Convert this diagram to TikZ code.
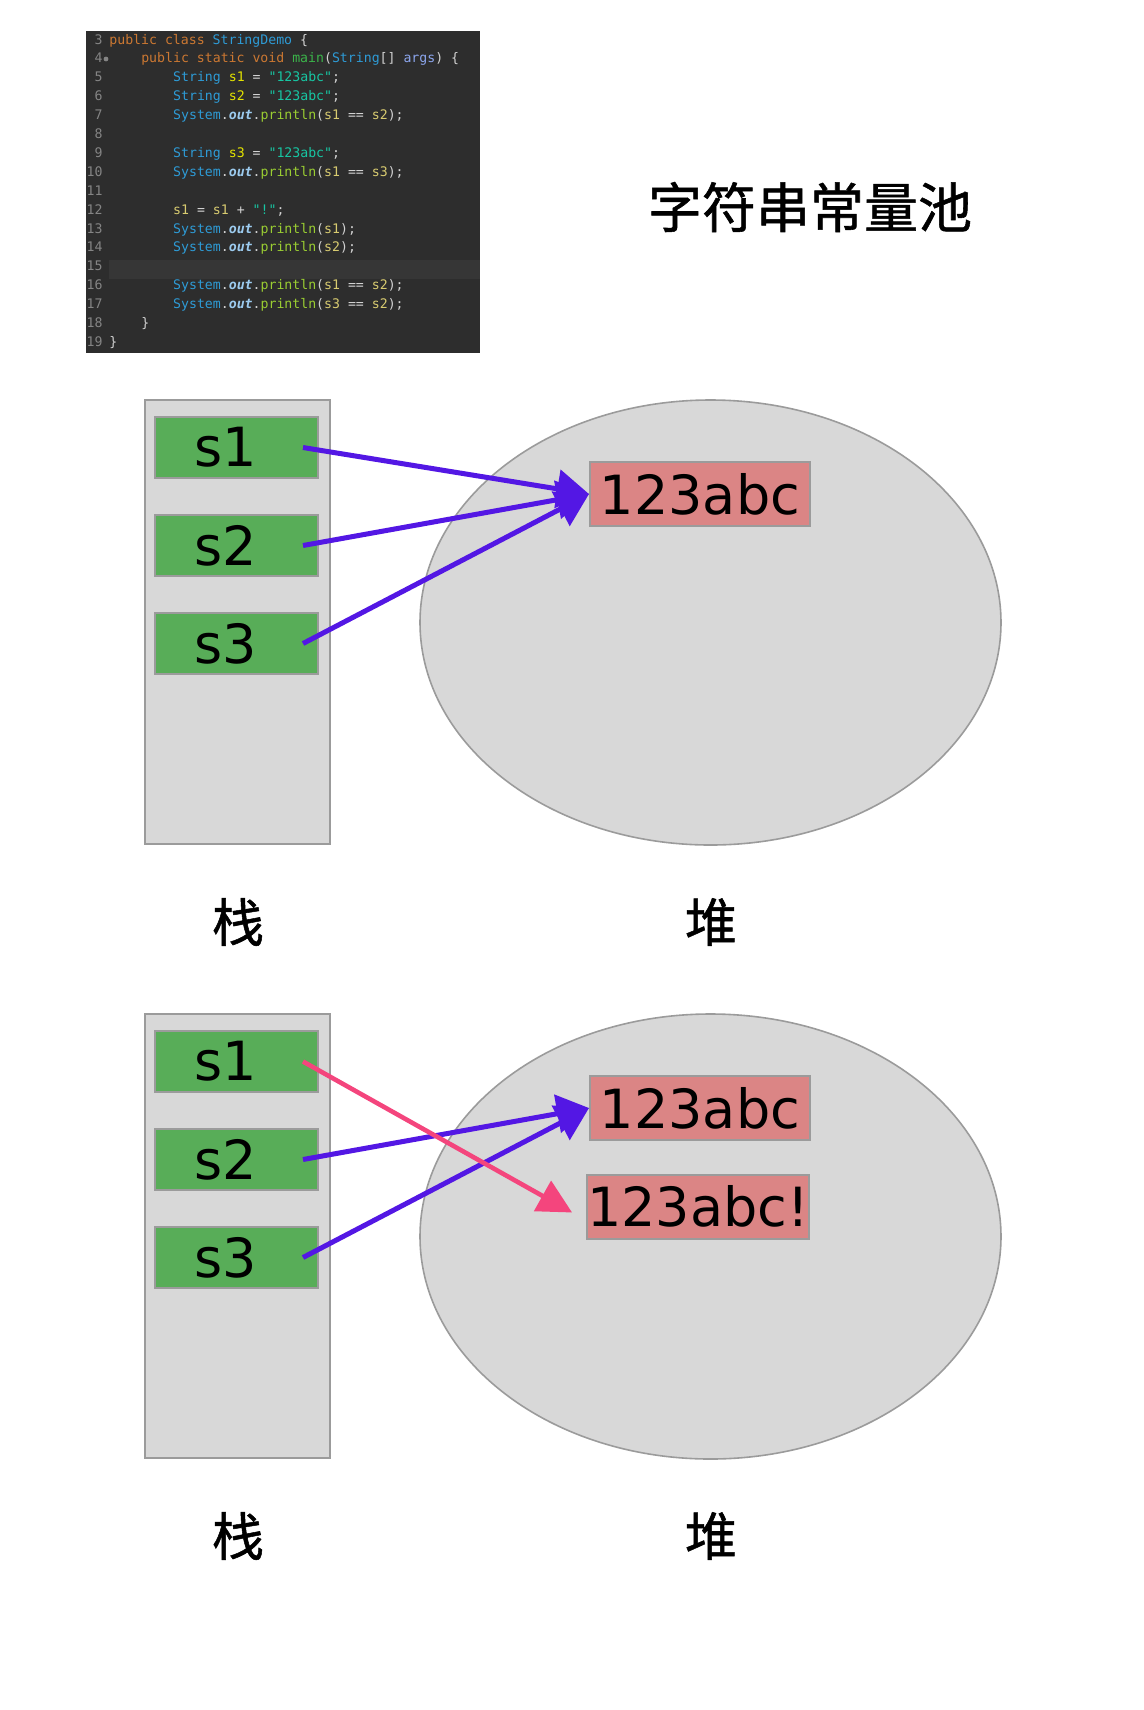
\documentclass[tikz,border=0pt]{standalone}
\usepackage{fontspec}
\setmainfont{DejaVu Sans}
\setmonofont{DejaVu Sans Mono}
\newfontfamily\cjk[FakeBold=1]{Noto Sans CJK SC}
\usetikzlibrary{arrows.meta,shapes.geometric}

\definecolor{codebg}{HTML}{2D2D2D}
\definecolor{codehl}{HTML}{363636}
\definecolor{codegray}{HTML}{858585}
\definecolor{codetext}{HTML}{D2D2D2}
\definecolor{jkwc}{HTML}{CC7832}
\definecolor{jtypec}{HTML}{2E9BD6}
\definecolor{jdeclc}{HTML}{E3E300}
\definecolor{jvarc}{HTML}{D8CB70}
\definecolor{jstrc}{HTML}{17C6A3}
\definecolor{jcallc}{HTML}{9ACD32}
\definecolor{joutc}{HTML}{9CCBEF}
\definecolor{jmainc}{HTML}{3BB44A}
\definecolor{jargc}{HTML}{8CA6EE}
\definecolor{slotgreen}{HTML}{58AD58}
\definecolor{strpink}{HTML}{DB8585}
\definecolor{boxline}{HTML}{9B9B9B}
\definecolor{memgray}{HTML}{D8D8D8}
\definecolor{refpurple}{HTML}{5317E4}
\definecolor{refpink}{HTML}{F4457D}

\newcommand{\jkw}[1]{\textcolor{jkwc}{#1}}
\newcommand{\jtype}[1]{\textcolor{jtypec}{#1}}
\newcommand{\jdecl}[1]{\textcolor{jdeclc}{#1}}
\newcommand{\jvar}[1]{\textcolor{jvarc}{#1}}
\newcommand{\jstr}[1]{\textcolor{jstrc}{#1}}
\newcommand{\jcall}[1]{\textcolor{jcallc}{#1}}
\newcommand{\jout}[1]{\textcolor{joutc}{\bfseries\itshape #1}}
\newcommand{\jmain}[1]{\textcolor{jmainc}{#1}}
\newcommand{\jarg}[1]{\textcolor{jargc}{#1}}
\newcommand{\sysout}{\jtype{System}.\jout{out}.\jcall{println}}

\tikzset{
    codeline/.style={anchor=base west, inner sep=0pt, text=codetext,
                     font=\ttfamily\fontsize{6.6}{9}\selectfont},
    lineno/.style={codeline, anchor=base east, text=codegray},
    stackcol/.style={draw=boxline, fill=memgray, line width=1pt,
                     minimum width=92.5pt, minimum height=222pt},
    slot/.style={draw=boxline, fill=slotgreen, line width=1pt,
                 minimum width=81.5pt, minimum height=30.5pt,
                 text width=42pt, align=left,
                 font=\fontsize{27}{27}\selectfont},
    heap/.style={ellipse, draw=boxline, fill=memgray, line width=0.8pt,
                 minimum width=290.5pt, minimum height=222.5pt, inner sep=0pt},
    strbox/.style={draw=boxline, fill=strpink, line width=1pt, inner xsep=0pt,
                   minimum width=110pt, minimum height=32pt,
                   font=\fontsize{27}{27}\selectfont},
    cjklabel/.style={font=\cjk\fontsize{26}{26}\selectfont},
    pooltitle/.style={font=\cjk\fontsize{27}{27}\selectfont},
    ref/.style={draw=refpurple, line width=2.5pt,
                -{Triangle[length=16pt, width=19pt]}},
    newref/.style={draw=refpink, line width=2.3pt,
                   -{Triangle[length=17pt, width=17pt]}},
}

\begin{document}
\begin{tikzpicture}[x=0.5pt, y=-0.5pt]
    \useasboundingbox (0,0) rectangle (1144,1710);

    % code snippet
    \fill[codebg] (86,31) rectangle (480,353);
    \fill[codehl] (109,260) rectangle (480,279);
    \foreach \n in {3,...,19}
        \node[lineno] (ln\n) at (103, {44+(\n-3)*18.9}) {\n};
    \fill[codegray] (106,59) circle (1.2pt);
    \node[codeline] (c3) at (109,44) {\jkw{public class} \jtype{StringDemo} \{};
    \node[codeline] (c4) at (140.9,62.9) {\jkw{public static void} \jmain{main}(\jtype{String}[] \jarg{args}) \{};
    \node[codeline] (c5) at (172.8,81.8) {\jtype{String} \jdecl{s1} = \jstr{"123abc"};};
    \node[codeline] (c6) at (172.8,100.7) {\jtype{String} \jdecl{s2} = \jstr{"123abc"};};
    \node[codeline] (c7) at (172.8,119.6) {\sysout(\jvar{s1} == \jvar{s2});};
    \node[codeline] (c9) at (172.8,157.4) {\jtype{String} \jdecl{s3} = \jstr{"123abc"};};
    \node[codeline] (c10) at (172.8,176.3) {\sysout(\jvar{s1} == \jvar{s3});};
    \node[codeline] (c12) at (172.8,214.1) {\jvar{s1} = \jvar{s1} + \jstr{"!"};};
    \node[codeline] (c13) at (172.8,233) {\sysout(\jvar{s1});};
    \node[codeline] (c14) at (172.8,251.9) {\sysout(\jvar{s2});};
    \node[codeline] (c16) at (172.8,289.7) {\sysout(\jvar{s1} == \jvar{s2});};
    \node[codeline] (c17) at (172.8,308.6) {\sysout(\jvar{s3} == \jvar{s2});};
    \node[codeline] (c18) at (140.9,327.5) {\}};
    \node[codeline] (c19) at (109,346.4) {\}};

    \node[pooltitle] (title) at (810,207) {字符串常量池};

    % before s1 = s1 + "!"
    \node[stackcol] (stackA) at (237.5,622) {};
    \node[slot] (s1A) at (236.5,447.5) {s1};
    \node[slot] (s2A) at (236.5,545.5) {s2};
    \node[slot] (s3A) at (236.5,643.5) {s3};
    \node[heap] (heapA) at (710.5,622.5) {};
    \node[strbox] (poolA) at (700,494) {123abc};
    \node[cjklabel] (stackAname) at (238,922) {栈};
    \node[cjklabel] (heapAname) at (711,922) {堆};
    \draw[ref] ([xshift=-8pt]s1A.east) -- (poolA.west);
    \draw[ref] ([xshift=-8pt]s2A.east) -- (poolA.west);
    \draw[ref] ([xshift=-8pt]s3A.east) -- (poolA.west);

    % after s1 = s1 + "!"
    \node[stackcol] (stackB) at (237.5,1236) {};
    \node[slot] (s1B) at (236.5,1061.5) {s1};
    \node[slot] (s2B) at (236.5,1159.5) {s2};
    \node[slot] (s3B) at (236.5,1257.5) {s3};
    \node[heap] (heapB) at (710.5,1236.5) {};
    \node[strbox] (poolB) at (700,1108) {123abc};
    \node[strbox] (bangB) at (698,1206.5) {123abc!};
    \node[cjklabel] (stackBname) at (238,1536) {栈};
    \node[cjklabel] (heapBname) at (711,1536) {堆};
    \draw[ref] ([xshift=-8pt]s2B.east) -- (poolB.west);
    \draw[ref] ([xshift=-8pt]s3B.east) -- (poolB.west);
    \draw[newref] ([xshift=-8pt]s1B.east) -- ([xshift=-7pt, yshift=-3pt]bangB.west);
\end{tikzpicture}
\end{document}
